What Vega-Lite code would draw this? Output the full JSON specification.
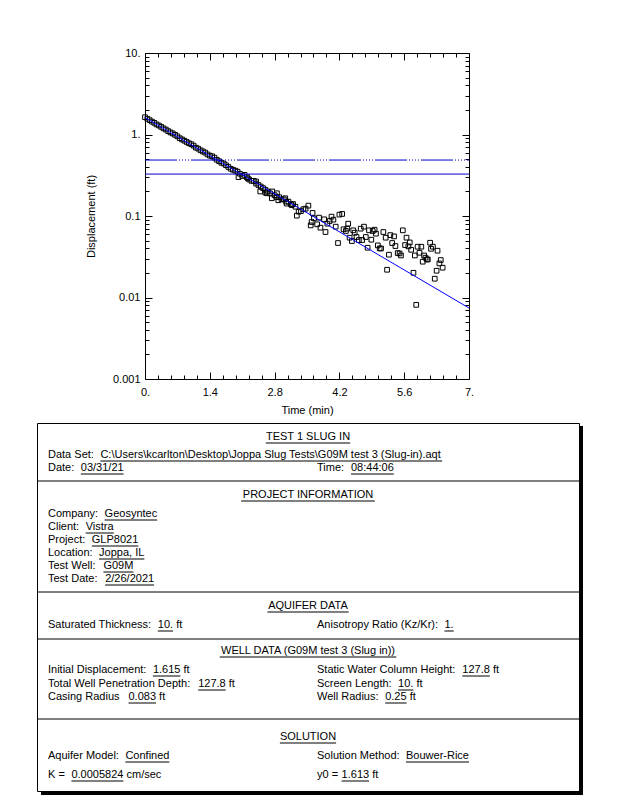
{
  "$schema": "https://vega.github.io/schema/vega-lite/v6.json",
  "padding": {"left": 36, "top": 46, "right": 4, "bottom": 4},
  "background": "white",
  "config": {
    "view": {"stroke": "black", "strokeWidth": 1},
    "axis": {"labelFont": "Liberation Sans", "labelFontSize": 11, "labelColor": "black", "titleFont": "Liberation Sans", "titleFontSize": 11, "titleFontWeight": "normal", "titleColor": "black", "tickColor": "black", "tickWidth": 1, "domain": false, "grid": false},
    "text": {"font": "Liberation Sans", "fontSize": 11, "fill": "black", "baseline": "middle"}
  },
  "datasets": {
    "pts": [
      {"t":0,"d":1.63},{"t":0.05,"d":1.56},{"t":0.1,"d":1.5},{"t":0.15,"d":1.44},{"t":0.2,"d":1.39},{"t":0.25,"d":1.33},{"t":0.3,"d":1.29},{"t":0.35,"d":1.24},{"t":0.4,"d":1.19},{"t":0.45,"d":1.15},{"t":0.5,"d":1.1},{"t":0.55,"d":1.06},{"t":0.6,"d":1.03},{"t":0.65,"d":0.99},{"t":0.7,"d":0.95},{"t":0.75,"d":0.9},{"t":0.8,"d":0.87},{"t":0.85,"d":0.84},{"t":0.9,"d":0.81},{"t":0.95,"d":0.78},{"t":1,"d":0.76},{"t":1.05,"d":0.73},{"t":1.1,"d":0.69},{"t":1.15,"d":0.67},{"t":1.2,"d":0.64},{"t":1.25,"d":0.62},{"t":1.3,"d":0.6},{"t":1.35,"d":0.57},{"t":1.4,"d":0.55},{"t":1.45,"d":0.54},{"t":1.5,"d":0.52},{"t":1.55,"d":0.49},{"t":1.6,"d":0.47},{"t":1.65,"d":0.45},{"t":1.7,"d":0.44},{"t":1.75,"d":0.42},{"t":1.8,"d":0.4},{"t":1.85,"d":0.38},{"t":1.9,"d":0.37},{"t":1.95,"d":0.36},{"t":2,"d":0.35},{"t":2.05,"d":0.33},{"t":2.1,"d":0.31},{"t":2.15,"d":0.32},{"t":2.2,"d":0.3},{"t":2.25,"d":0.28},{"t":2.3,"d":0.27},{"t":2.35,"d":0.27},{"t":2.4,"d":0.25},{"t":2.45,"d":0.24},{"t":2.5,"d":0.23},{"t":2.55,"d":0.22},{"t":2.6,"d":0.21},{"t":2.65,"d":0.2},{"t":2.7,"d":0.19},{"t":2.75,"d":0.2},{"t":2.8,"d":0.18},{"t":2.85,"d":0.19},{"t":2.9,"d":0.17},{"t":2.95,"d":0.16},{"t":3,"d":0.16},{"t":3.05,"d":0.15},{"t":3.1,"d":0.15},{"t":3.15,"d":0.14},{"t":3.2,"d":0.14},{"t":3.25,"d":0.13},
      {"t":2.02,"d":0.3},{"t":2.22,"d":0.29},{"t":2.4,"d":0.265},{"t":2.49,"d":0.2},{"t":2.6,"d":0.194},{"t":2.63,"d":0.19},{"t":2.74,"d":0.165},{"t":2.84,"d":0.171},{"t":2.88,"d":0.156},{"t":3.03,"d":0.165},{"t":3.06,"d":0.142},{"t":3.17,"d":0.136},
      {"t":3.28,"d":0.101},{"t":3.32,"d":0.113},{"t":3.37,"d":0.115},{"t":3.42,"d":0.121},{"t":3.47,"d":0.123},{"t":3.53,"d":0.134},{"t":3.62,"d":0.109},{"t":3.58,"d":0.0767},{"t":3.6,"d":0.0844},{"t":3.65,"d":0.0936},{"t":3.72,"d":0.0791},{"t":3.76,"d":0.0955},{"t":3.79,"d":0.0719},{"t":3.87,"d":0.091},{"t":3.9,"d":0.0636},{"t":3.94,"d":0.0805},{"t":3.99,"d":0.0869},{"t":4.03,"d":0.0982},{"t":4.07,"d":0.0902},{"t":4.12,"d":0.074},{"t":4.17,"d":0.0466},{"t":4.2,"d":0.104},{"t":4.26,"d":0.106},{"t":4.29,"d":0.0686},{"t":4.34,"d":0.0655},{"t":4.37,"d":0.0699},{"t":4.39,"d":0.0805},{"t":4.42,"d":0.0542},{"t":4.47,"d":0.0493},{"t":4.5,"d":0.0667},{"t":4.53,"d":0.0624},{"t":4.57,"d":0.0552},{"t":4.62,"d":0.0507},{"t":4.66,"d":0.0699},{"t":4.69,"d":0.0507},{"t":4.73,"d":0.074},{"t":4.77,"d":0.0552},{"t":4.81,"d":0.0408},{"t":4.84,"d":0.0667},{"t":4.89,"d":0.0512},{"t":4.92,"d":0.0655},{"t":4.96,"d":0.0679},{"t":4.99,"d":0.0607},{"t":5.03,"d":0.0436},{"t":5.07,"d":0.04},{"t":5.1,"d":0.04},{"t":5.15,"d":0.0636},{"t":5.2,"d":0.0542},{"t":5.23,"d":0.0219},{"t":5.27,"d":0.0335},{"t":5.3,"d":0.0583},{"t":5.34,"d":0.0466},{"t":5.38,"d":0.0562},{"t":5.41,"d":0.0428},{"t":5.46,"d":0.0351},{"t":5.5,"d":0.0347},{"t":5.53,"d":0.0328},{"t":5.57,"d":0.0667},{"t":5.62,"d":0.044},{"t":5.65,"d":0.0542},{"t":5.69,"d":0.0424},{"t":5.72,"d":0.0474},{"t":5.75,"d":0.0385},{"t":5.8,"d":0.0201},{"t":5.83,"d":0.0328},{"t":5.86,"d":0.00813},{"t":5.89,"d":0.042},{"t":5.93,"d":0.0354},{"t":5.97,"d":0.042},{"t":6,"d":0.0275},{"t":6.03,"d":0.0328},{"t":6.06,"d":0.0308},{"t":6.09,"d":0.0293},{"t":6.11,"d":0.0293},{"t":6.16,"d":0.047},{"t":6.18,"d":0.0396},{"t":6.22,"d":0.042},{"t":6.26,"d":0.017},{"t":6.3,"d":0.0213},{"t":6.32,"d":0.0375},{"t":6.36,"d":0.0262},{"t":6.39,"d":0.0288},{"t":6.43,"d":0.0232}
    ],
    "fit": [{"t":0,"d":1.613},{"t":7,"d":0.00743}],
    "hsolid": [{"t0":0,"t1":7,"d":0.327}],
    "hdash": [{"t0":0,"t1":7,"d":0.486}],
    "dividers": [{"y":58},{"y":169},{"y":216},{"y":296}],
    "shadow": [{"x1":542,"x2":546,"y1":3,"y2":372},{"x1":4,"x2":546,"y1":368,"y2":372}],
    "heads": [
      {"x":271,"y":14,"s":"TEST 1 SLUG IN"},
      {"x":271,"y":72,"s":"PROJECT INFORMATION"},
      {"x":271,"y":183,"s":"AQUIFER DATA"},
      {"x":271,"y":228,"s":"WELL DATA (G09M test 3 (Slug in))"},
      {"x":271,"y":314,"s":"SOLUTION"}
    ],
    "body": [
      {"x":11,"y":32,"s":"Data Set:"},{"x":63.4,"y":32,"s":"C:\\Users\\kcarlton\\Desktop\\Joppa Slug Tests\\G09M test 3 (Slug-in).aqt"},
      {"x":11,"y":45,"s":"Date:"},{"x":43.8,"y":45,"s":"03/31/21"},{"x":280,"y":45,"s":"Time:"},{"x":314,"y":45,"s":"08:44:06"},
      {"x":11,"y":91,"s":"Company:"},{"x":67.6,"y":91,"s":"Geosyntec"},
      {"x":11,"y":104,"s":"Client:"},{"x":48.7,"y":104,"s":"Vistra"},
      {"x":11,"y":117,"s":"Project:"},{"x":54.8,"y":117,"s":"GLP8021"},
      {"x":11,"y":130,"s":"Location:"},{"x":62.1,"y":130,"s":"Joppa, IL"},
      {"x":11,"y":143,"s":"Test Well:"},{"x":66.4,"y":143,"s":"G09M"},
      {"x":11,"y":156,"s":"Test Date:"},{"x":68.2,"y":156,"s":"2/26/2021"},
      {"x":11,"y":202,"s":"Saturated Thickness:"},{"x":120.8,"y":202,"s":"10."},{"x":139.2,"y":202,"s":"ft"},
      {"x":280,"y":202,"s":"Anisotropy Ratio (Kz/Kr):"},{"x":407.5,"y":202,"s":"1."},
      {"x":11,"y":247,"s":"Initial Displacement:"},{"x":115.9,"y":247,"s":"1.615"},{"x":146.5,"y":247,"s":"ft"},
      {"x":280,"y":247,"s":"Static Water Column Height:"},{"x":425.3,"y":247,"s":"127.8"},{"x":455.9,"y":247,"s":"ft"},
      {"x":11,"y":261,"s":"Total Well Penetration Depth:"},{"x":161.2,"y":261,"s":"127.8"},{"x":191.8,"y":261,"s":"ft"},
      {"x":280,"y":261,"s":"Screen Length:"},{"x":361.1,"y":261,"s":"10."},{"x":379.5,"y":261,"s":"ft"},
      {"x":11,"y":274,"s":"Casing Radius"},{"x":91.5,"y":274,"s":"0.083"},{"x":122.1,"y":274,"s":"ft"},
      {"x":280,"y":274,"s":"Well Radius:"},{"x":348.2,"y":274,"s":"0.25"},{"x":372.7,"y":274,"s":"ft"},
      {"x":11,"y":333,"s":"Aquifer Model:"},{"x":88.4,"y":333,"s":"Confined"},
      {"x":280,"y":333,"s":"Solution Method:"},{"x":369,"y":333,"s":"Bouwer-Rice"},
      {"x":11,"y":352,"s":"K  ="},{"x":34.4,"y":352,"s":"0.0005824"},{"x":89.5,"y":352,"s":"cm/sec"},
      {"x":280,"y":352,"s":"y0 ="},{"x":304.6,"y":352,"s":"1.613"},{"x":335.2,"y":352,"s":"ft"}
    ],
    "ul": [
      {"x1":228.8,"x2":313.2,"y":20},{"x1":204.2,"x2":337.8,"y":78},{"x1":230.4,"x2":311.6,"y":189},{"x1":182.7,"x2":359.3,"y":234},{"x1":242.9,"x2":299.1,"y":320},
      {"x1":63.4,"x2":405.1,"y":38},{"x1":43.8,"x2":86.6,"y":51},{"x1":314,"x2":356.8,"y":51},
      {"x1":67.6,"x2":120.2,"y":97},{"x1":48.7,"x2":76.8,"y":110},{"x1":54.8,"x2":101.3,"y":123},{"x1":62.1,"x2":107.4,"y":136},{"x1":66.4,"x2":96.4,"y":149},{"x1":68.2,"x2":117.1,"y":162},
      {"x1":120.8,"x2":136.1,"y":208},{"x1":407.5,"x2":416.7,"y":208},
      {"x1":115.9,"x2":143.4,"y":253},{"x1":425.3,"x2":452.8,"y":253},
      {"x1":161.2,"x2":188.7,"y":267},{"x1":361.1,"x2":376.4,"y":267},
      {"x1":91.5,"x2":119,"y":280},{"x1":348.2,"x2":369.6,"y":280},
      {"x1":88.4,"x2":132.4,"y":339},{"x1":369,"x2":432,"y":339},
      {"x1":34.4,"x2":86.4,"y":358},{"x1":304.6,"x2":332.1,"y":358}
    ]
  },
  "spacing": 6,
  "vconcat": [
    {
      "spacing": 0,
      "hconcat": [
        {"width": 47, "height": 10, "view": {"stroke": null}, "data": {"values": []}, "mark": "point"},
        {
          "width": 324,
          "height": 326,
          "resolve": {"axis": {"x": "independent", "y": "independent"}},
          "layer": [
            {
              "data": {"name": "pts"},
              "mark": {"type": "point", "shape": "square", "filled": false, "stroke": "black", "strokeWidth": 1, "size": 22, "opacity": 1},
              "encoding": {
                "x": {"field": "t", "type": "quantitative", "scale": {"domain": [0, 7], "nice": false, "zero": false},
                  "axis": {"orient": "bottom", "values": [0, 1.4, 2.8, 4.2, 5.6, 7], "tickSize": -7, "labelPadding": 14, "labelExpr": "datum.value == 0 ? '0.' : datum.value == 7 ? '7.' : format(datum.value, '.1f')", "title": "Time (min)", "titlePadding": 7, "labelFlush": false}},
                "y": {"field": "d", "type": "quantitative", "scale": {"type": "log", "domain": [0.001, 10], "nice": false},
                  "axis": {"orient": "left", "values": [0.001, 0.01, 0.1, 1, 10], "tickSize": -7, "labelPadding": 12, "labelExpr": "datum.value >= 10 ? '10.' : datum.value >= 1 ? '1.' : datum.value >= 0.1 ? '0.1' : datum.value >= 0.01 ? '0.01' : '0.001'", "title": "Displacement (ft)", "titlePadding": 16, "labelFlush": false}}
              }
            },
            {
              "data": {"name": "fit"},
              "mark": {"type": "line", "color": "#0000ff", "strokeWidth": 1},
              "encoding": {
                "x": {"field": "t", "type": "quantitative", "scale": {"domain": [0, 7], "nice": false, "zero": false},
                  "axis": {"orient": "bottom", "values": [0.28, 0.56, 0.84, 1.12, 1.68, 1.96, 2.24, 2.52, 3.08, 3.36, 3.64, 3.92, 4.48, 4.76, 5.04, 5.32, 5.88, 6.16, 6.44, 6.72], "tickSize": -4, "labels": false, "title": null}},
                "y": {"field": "d", "type": "quantitative", "scale": {"type": "log", "domain": [0.001, 10], "nice": false},
                  "axis": {"orient": "left", "values": [0.002, 0.003, 0.004, 0.005, 0.006, 0.007, 0.008, 0.009, 0.02, 0.03, 0.04, 0.05, 0.06, 0.07, 0.08, 0.09, 0.2, 0.3, 0.4, 0.5, 0.6, 0.7, 0.8, 0.9, 2, 3, 4, 5, 6, 7, 8, 9], "tickSize": -4, "labels": false, "title": null}}
              }
            },
            {
              "data": {"name": "hsolid"},
              "mark": {"type": "rule", "color": "#0000cc", "strokeWidth": 1},
              "encoding": {
                "x": {"field": "t0", "type": "quantitative", "scale": {"domain": [0, 7], "nice": false, "zero": false},
                  "axis": {"orient": "top", "values": [0, 1.4, 2.8, 4.2, 5.6, 7], "tickSize": -7, "labels": false, "title": null}},
                "x2": {"field": "t1"},
                "y": {"field": "d", "type": "quantitative", "scale": {"type": "log", "domain": [0.001, 10], "nice": false},
                  "axis": {"orient": "right", "values": [0.001, 0.01, 0.1, 1, 10], "tickSize": -7, "labels": false, "title": null}}
              }
            },
            {
              "data": {"name": "hdash"},
              "mark": {"type": "rule", "color": "#0000cc", "strokeWidth": 1, "strokeDash": [32, 2, 1, 2, 1, 2, 1, 2, 1, 2]},
              "encoding": {
                "x": {"field": "t0", "type": "quantitative", "scale": {"domain": [0, 7], "nice": false, "zero": false},
                  "axis": {"orient": "top", "values": [0.28, 0.56, 0.84, 1.12, 1.68, 1.96, 2.24, 2.52, 3.08, 3.36, 3.64, 3.92, 4.48, 4.76, 5.04, 5.32, 5.88, 6.16, 6.44, 6.72], "tickSize": -4, "labels": false, "title": null}},
                "x2": {"field": "t1"},
                "y": {"field": "d", "type": "quantitative", "scale": {"type": "log", "domain": [0.001, 10], "nice": false},
                  "axis": {"orient": "right", "values": [0.002, 0.003, 0.004, 0.005, 0.006, 0.007, 0.008, 0.009, 0.02, 0.03, 0.04, 0.05, 0.06, 0.07, 0.08, 0.09, 0.2, 0.3, 0.4, 0.5, 0.6, 0.7, 0.8, 0.9, 2, 3, 4, 5, 6, 7, 8, 9], "tickSize": -4, "labels": false, "title": null}}
              }
            }
          ]
        }
      ]
    },
    {
      "width": 542,
      "height": 368,
      "layer": [
        {
          "data": {"name": "dividers"},
          "mark": {"type": "rule", "color": "black", "strokeWidth": 1},
          "encoding": {
            "y": {"field": "y", "type": "quantitative", "scale": {"domain": [0, 368], "reverse": true, "nice": false, "zero": false}, "axis": null}
          }
        },
        {
          "data": {"name": "shadow"},
          "mark": {"type": "rect", "color": "black"},
          "encoding": {
            "x": {"field": "x1", "type": "quantitative", "scale": {"domain": [0, 542], "nice": false, "zero": false}, "axis": null},
            "x2": {"field": "x2"},
            "y": {"field": "y1", "type": "quantitative", "scale": {"domain": [0, 368], "reverse": true, "nice": false, "zero": false}, "axis": null},
            "y2": {"field": "y2"}
          }
        },
        {
          "data": {"name": "ul"},
          "mark": {"type": "rule", "color": "black", "strokeWidth": 1},
          "encoding": {
            "x": {"field": "x1", "type": "quantitative", "scale": {"domain": [0, 542], "nice": false, "zero": false}, "axis": null},
            "x2": {"field": "x2"},
            "y": {"field": "y", "type": "quantitative", "scale": {"domain": [0, 368], "reverse": true, "nice": false, "zero": false}, "axis": null}
          }
        },
        {
          "data": {"name": "heads"},
          "mark": {"type": "text", "align": "center"},
          "encoding": {
            "x": {"field": "x", "type": "quantitative", "scale": {"domain": [0, 542], "nice": false, "zero": false}, "axis": null},
            "y": {"field": "y", "type": "quantitative", "scale": {"domain": [0, 368], "reverse": true, "nice": false, "zero": false}, "axis": null},
            "text": {"field": "s"}
          }
        },
        {
          "data": {"name": "body"},
          "mark": {"type": "text", "align": "left"},
          "encoding": {
            "x": {"field": "x", "type": "quantitative", "scale": {"domain": [0, 542], "nice": false, "zero": false}, "axis": null},
            "y": {"field": "y", "type": "quantitative", "scale": {"domain": [0, 368], "reverse": true, "nice": false, "zero": false}, "axis": null},
            "text": {"field": "s"}
          }
        }
      ]
    }
  ]
}
